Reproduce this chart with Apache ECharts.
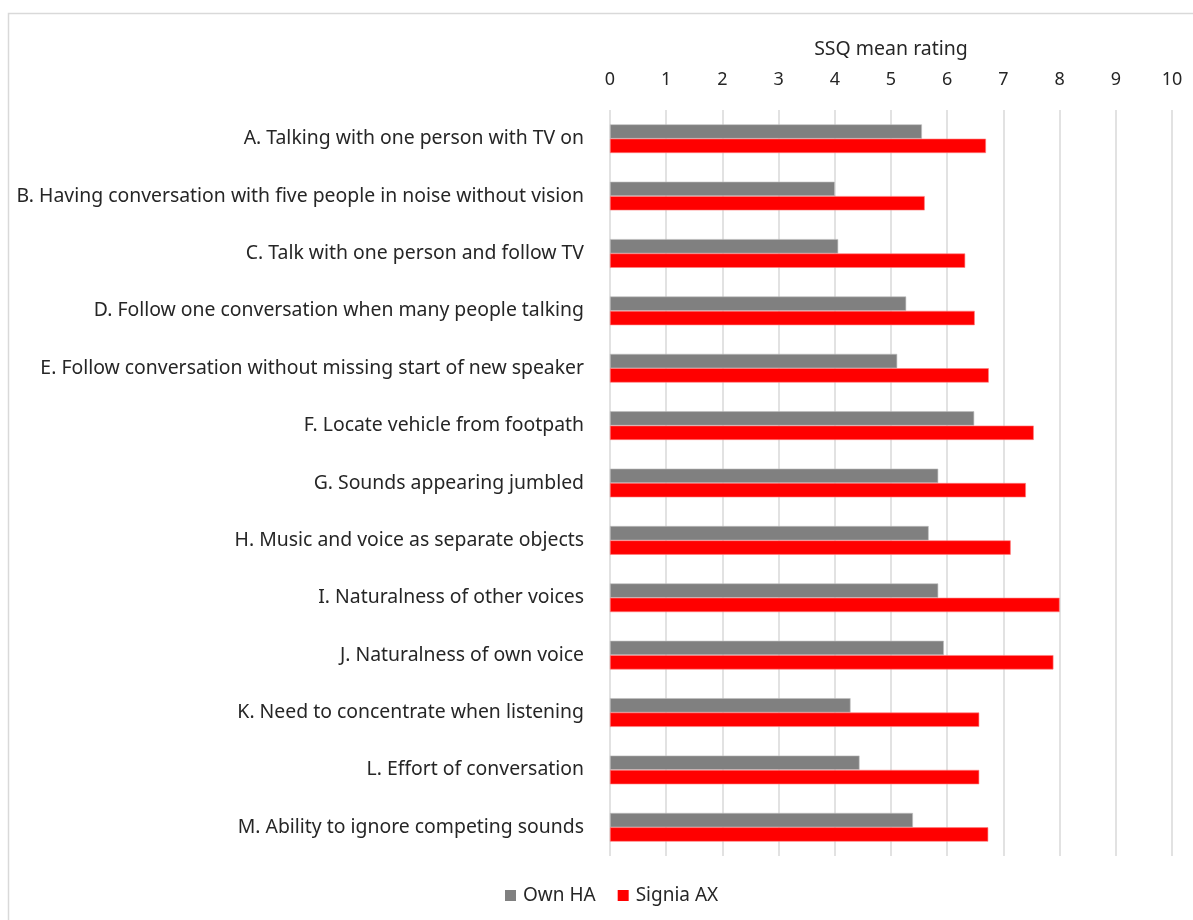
<!DOCTYPE html>
<html>
<head>
<meta charset="utf-8">
<script src="https://cdn.jsdelivr.net/npm/echarts@6/dist/echarts.min.js"></script>
<style>
html,body{margin:0;padding:0;background:#fff;}
#c{width:1193px;height:920px;}
</style>
</head>
<body>
<div id="c"></div>
<script>
const categories = [
  "A. Talking with one person with TV on",
  "B. Having conversation with five people in noise without vision",
  "C. Talk with one person and follow TV",
  "D. Follow one conversation when many people talking",
  "E. Follow conversation without missing start of new speaker",
  "F. Locate vehicle from footpath",
  "G. Sounds appearing jumbled",
  "H. Music and voice as separate objects",
  "I. Naturalness of other voices",
  "J. Naturalness of own voice",
  "K. Need to concentrate when listening",
  "L. Effort of conversation",
  "M. Ability to ignore competing sounds"
];
const ownHA =    [5.55, 4.00, 4.06, 5.27, 5.11, 6.48, 5.84, 5.67, 5.84, 5.94, 4.28, 4.44, 5.39];
const signiaAX = [6.69, 5.60, 6.32, 6.49, 6.74, 7.54, 7.40, 7.13, 8.00, 7.89, 6.57, 6.57, 6.73];
const seriesNames = ["Own HA", "Signia AX"];
const axisTitle = "SSQ mean rating";

const FONT = "Noto Sans";
const TXT = '#262626';
const chart = echarts.init(document.getElementById('c'), null, {renderer: 'canvas'});
chart.setOption({
  animation: false,
  backgroundColor: '#ffffff',
  textStyle: {fontFamily: FONT},
  graphic: [{
    type: 'rect',
    shape: {x: 8.5, y: 13.5, width: 1300, height: 1000},
    style: {fill: 'none', stroke: '#d9d9d9', lineWidth: 1.5},
    silent: true
  }],
  legend: {
    data: seriesNames,
    left: 500,
    top: 881,
    itemWidth: 11,
    itemHeight: 11,
    itemGap: 22,
    icon: 'rect',
    itemStyle: {borderWidth: 0},
    textStyle: {fontFamily: FONT, fontSize: 19, color: TXT, padding: [0, 0, 0, 2]}
  },
  grid: {left: 610, right: 21, top: 110, bottom: 64, containLabel: false},
  xAxis: {
    type: 'value',
    position: 'top',
    min: 0, max: 10, interval: 1,
    name: axisTitle,
    nameLocation: 'middle',
    nameGap: 51,
    nameTextStyle: {fontFamily: FONT, fontSize: 19.5, color: TXT},
    axisLine: {show: false},
    axisTick: {show: false},
    axisLabel: {fontFamily: FONT, fontSize: 18, color: TXT, margin: 21},
    splitLine: {show: true, lineStyle: {color: '#d9d9d9', width: 1.5}}
  },
  yAxis: {
    type: 'category',
    data: categories,
    inverse: true,
    axisLine: {show: false},
    axisTick: {show: false},
    splitLine: {show: false},
    axisLabel: {fontFamily: FONT, fontSize: 19.4, color: TXT, margin: 26}
  },
  series: [
    {
      name: seriesNames[0], type: 'bar', data: ownHA,
      barGap: '0%', barCategoryGap: '50%',
      itemStyle: {color: '#808080', borderColor: '#bdbdbd', borderWidth: 0.6}
    },
    {
      name: seriesNames[1], type: 'bar', data: signiaAX,
      barGap: '0%', barCategoryGap: '50%',
      itemStyle: {color: '#ff0000', borderColor: '#ff8080', borderWidth: 0.6}
    }
  ]
});
</script>
</body>
</html>
